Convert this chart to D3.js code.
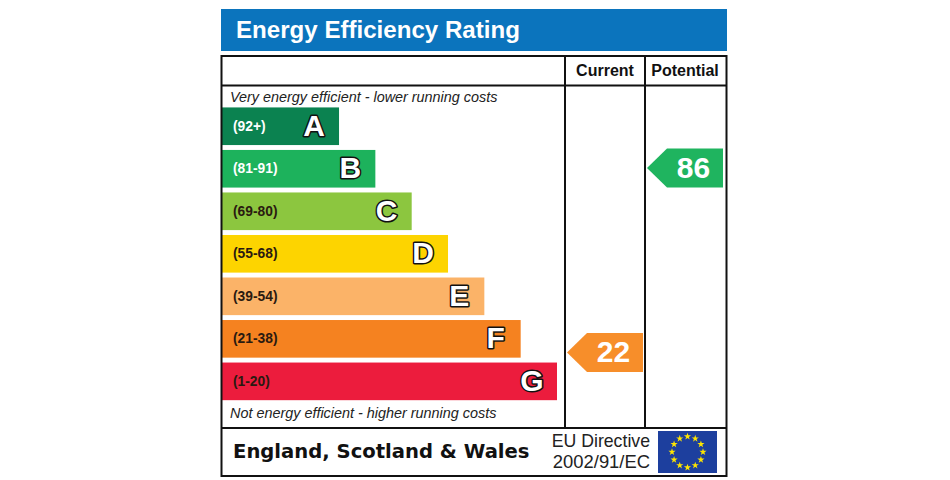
<!DOCTYPE html>
<html>
<head>
<meta charset="utf-8">
<script src="https://cdn.jsdelivr.net/npm/d3@7"></script>
<style>
  html, body { margin: 0; background: #fff; }
  svg { display: block; font-family: "Liberation Sans", Arial, sans-serif; }
</style>
</head>
<body>
<svg id="chart" width="950" height="480"></svg>
<script>
// ── Data ─────────────────────────────────────────────────────────────────────
const bands      = ['A', 'B', 'C', 'D', 'E', 'F', 'G'];
const ranges     = ['(92+)', '(81-91)', '(69-80)', '(55-68)', '(39-54)', '(21-38)', '(1-20)'];
const barLevels  = [1, 2, 3, 4, 5, 6, 7];
const bandColors = ['#0b8250', '#1db25c', '#8cc63f', '#fdd400', '#fbb368', '#f58220', '#ec1c3d'];
const columns    = ['Current', 'Potential'];
const ratings    = [22, 86];
const ratingFill = ['#f78e2a', '#1fb45f'];

const W = 950, H = 480;
const svg = d3.select('#chart').attr('viewBox', `0 0 ${W} ${H}`);

// ── Scales ───────────────────────────────────────────────────────────────────
const barX = d3.scaleLinear().domain([0, 7]).range([302.7, 557]);
const barY = d3.scaleBand().domain(bands).range([105.3, 402.3]).paddingInner(0.115).paddingOuter(0.05);
const rateY = d3.scaleLinear().domain([86, 22]).range([168, 352.5]);
const colX = d3.scaleOrdinal().domain(columns).range([565, 645]);
const COL_W = 80;

// ── Title ────────────────────────────────────────────────────────────────────
svg.append('rect').attr('x', 221).attr('y', 9).attr('width', 506).attr('height', 42).attr('fill', '#0b74bd');
svg.append('text').attr('x', 236).attr('y', 38)
  .attr('fill', '#fff').attr('font-size', 24.1).attr('font-weight', 700)
  .text('Energy Efficiency Rating');

// ── Bars ─────────────────────────────────────────────────────────────────────
const rows = svg.append('g').selectAll('g').data(bands).join('g')
  .attr('transform', d => `translate(0,${barY(d)})`);

rows.append('rect')
  .attr('x', 222)
  .attr('width', (d, i) => barX(barLevels[i]) - 222)
  .attr('height', barY.bandwidth())
  .attr('fill', (d, i) => bandColors[i]);

rows.append('text')
  .attr('x', 233).attr('y', barY.bandwidth() / 2 + 4.5)
  .attr('font-size', 13.8).attr('font-weight', 700)
  .attr('fill', (d, i) => i < 2 ? '#fff' : '#2a1a10')
  .text((d, i) => ranges[i]);

rows.append('text')
  .attr('x', (d, i) => barX(barLevels[i]) - 25)
  .attr('y', barY.bandwidth() / 2 + 9.5)
  .attr('text-anchor', 'middle')
  .attr('font-size', 30).attr('font-weight', 700)
  .attr('fill', '#fff').attr('stroke', '#111').attr('stroke-width', 3)
  .attr('stroke-linejoin', 'round').attr('paint-order', 'stroke')
  .text(d => d);

// ── Captions ─────────────────────────────────────────────────────────────────
svg.append('text').attr('x', 230).attr('y', 102)
  .attr('font-size', 14.4).attr('font-style', 'italic').attr('fill', '#222')
  .text('Very energy efficient - lower running costs');
svg.append('text').attr('x', 230).attr('y', 418)
  .attr('font-size', 14.4).attr('font-style', 'italic').attr('fill', '#222')
  .text('Not energy efficient - higher running costs');

// ── Rating arrows ────────────────────────────────────────────────────────────
const arrow = (x0, y, x1) => {
  const p = d3.path(), hh = 19.5;
  p.moveTo(x0, y);
  p.lineTo(x0 + 20, y - hh);
  p.lineTo(x1, y - hh);
  p.lineTo(x1, y + hh);
  p.lineTo(x0 + 20, y + hh);
  p.closePath();
  return p.toString();
};

columns.forEach((c, i) => {
  const left = colX(c);
  const y = rateY(ratings[i]);
  svg.append('path')
    .attr('d', arrow(left + 2, y, left + COL_W - 2))
    .attr('fill', ratingFill[i]);
  svg.append('text')
    .attr('x', left + 48.5).attr('y', y + 9.5)
    .attr('text-anchor', 'middle')
    .attr('font-size', 30).attr('font-weight', 700).attr('fill', '#fff')
    .text(ratings[i]);
  svg.append('text')
    .attr('x', left + COL_W / 2).attr('y', 76)
    .attr('text-anchor', 'middle')
    .attr('font-size', 16).attr('font-weight', 700).attr('fill', '#111')
    .text(c);
});

// ── Frame ────────────────────────────────────────────────────────────────────
const frame = svg.append('g').attr('stroke', '#111').attr('stroke-width', 2).attr('fill', 'none');
frame.append('rect').attr('x', 221.5).attr('y', 56).attr('width', 505).attr('height', 420);
frame.append('line').attr('x1', 221).attr('x2', 727).attr('y1', 85.5).attr('y2', 85.5);
frame.append('line').attr('x1', 221).attr('x2', 727).attr('y1', 428).attr('y2', 428);
columns.forEach(c => {
  frame.append('line').attr('x1', colX(c)).attr('x2', colX(c)).attr('y1', 56).attr('y2', 428);
});

// ── Footer ───────────────────────────────────────────────────────────────────
svg.append('text').attr('x', 233).attr('y', 458)
  .attr('font-family', '"DejaVu Sans", Verdana, sans-serif')
  .attr('font-size', 19.6).attr('font-weight', 700).attr('fill', '#111')
  .text('England, Scotland & Wales');
svg.append('text').attr('x', 650).attr('y', 447)
  .attr('text-anchor', 'end').attr('font-size', 17.7).attr('fill', '#222')
  .text('EU Directive');
svg.append('text').attr('x', 650).attr('y', 468)
  .attr('text-anchor', 'end').attr('font-size', 18.4).attr('fill', '#222')
  .text('2002/91/EC');

// EU flag
svg.append('rect').attr('x', 658).attr('y', 431).attr('width', 59).attr('height', 42).attr('fill', '#1d3f9e');
const star = d3.symbol().type(d3.symbolStar).size(16);
svg.append('g').selectAll('path').data(d3.range(12)).join('path')
  .attr('d', star)
  .attr('fill', '#ffe600')
  .attr('transform', d => {
    const a = d / 12 * 2 * Math.PI;
    return `translate(${687.5 + 15.5 * Math.sin(a)},${452 - 15.5 * Math.cos(a)})`;
  });
</script>
</body>
</html>
